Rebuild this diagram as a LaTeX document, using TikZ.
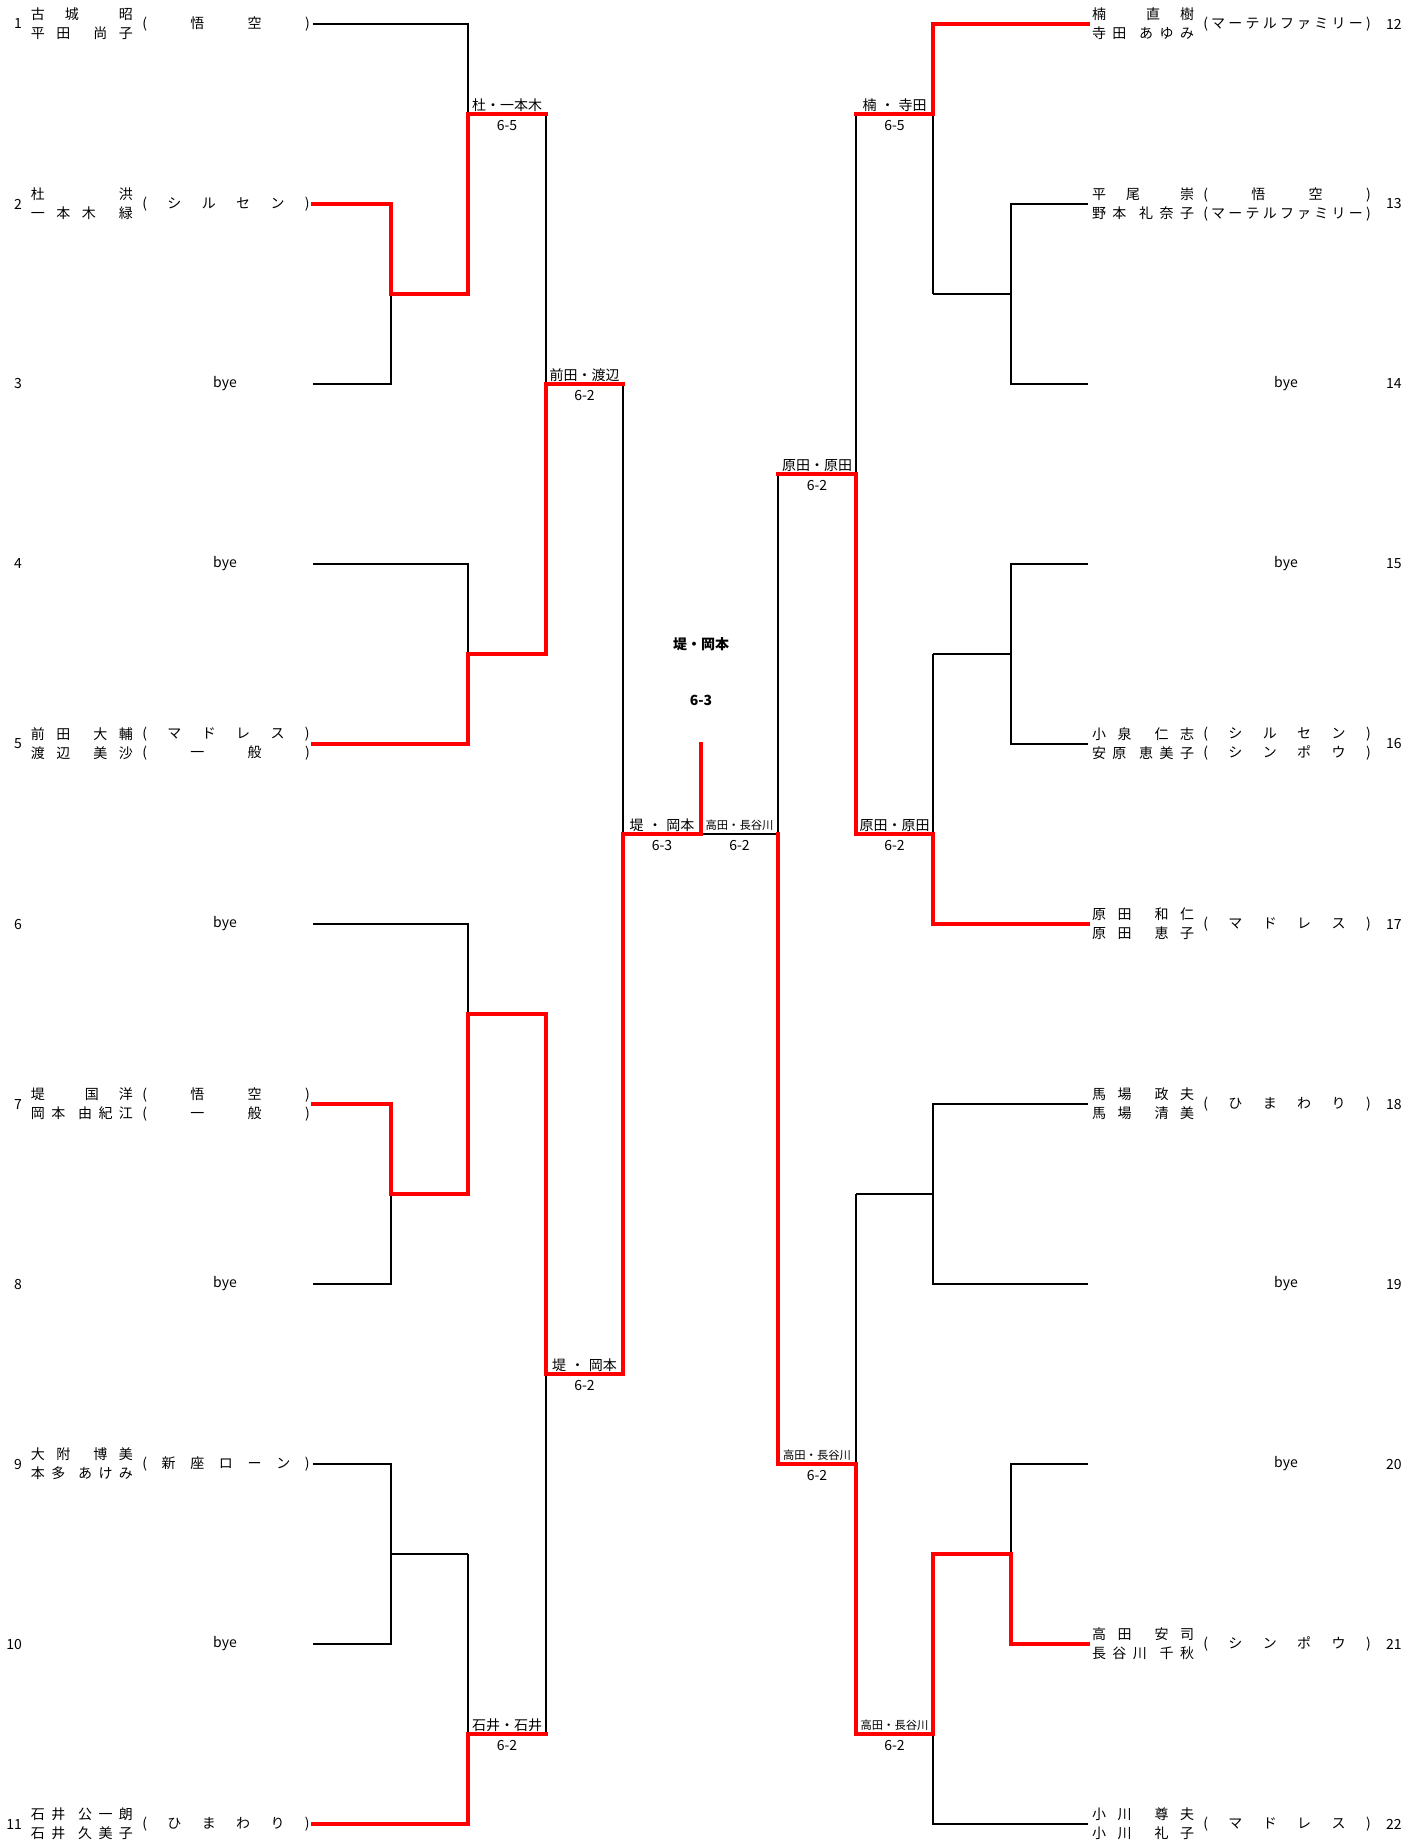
\documentclass[tikz,border=0pt]{standalone}
\usepackage{fontspec}
\setmainfont{Noto Sans CJK JP}
\usetikzlibrary{positioning}

\makeatletter
\def\spr@bar{|}
\newcommand{\spr}[1]{\let\spr@gap\relax
  \@tfor\spr@t:=#1\do{\ifx\spr@t\spr@bar\hfill\else\spr@gap\spr@t\let\spr@gap\hfill\fi}}
\makeatother
\newcommand{\nm}[1]{\makebox[76.5pt][s]{\spr{#1}}}
\newcommand{\af}[1]{\makebox[10.5pt][r]{(}\makebox[118.5pt][s]{\hfill\spr{#1}\hfill}\makebox[6pt][l]{)}}

\begin{document}
\begin{tikzpicture}[x=0.75pt,y=-0.75pt,
    every node/.style={inner sep=0pt,outer sep=0pt},
    entry/.style={font=\fontsize{10.5}{14.25}\selectfont,align=left},
    num/.style={font=\fontsize{10.5}{12}\selectfont},
    bye/.style={font=\fontsize{10.5}{12}\selectfont},
    winner/.style={midway,above=2pt,font=\fontsize{10.5}{12}\selectfont},
    winnersm/.style={midway,above=2.5pt,font=\fontsize{8.5}{10}\selectfont},
    score/.style={midway,below=4.5pt,font=\fontsize{10.5}{12}\selectfont},
    champ/.style={font=\bfseries\fontsize{10.5}{12}\selectfont},
    bline/.style={draw,line width=1pt},
    rline/.style={draw=red,line width=3pt,line cap=rect},
    elbow/.style={to path={-| (\tikztotarget)}}]

  \useasboundingbox (0,0) rectangle (1418,1840);

  \foreach \i in {1,...,11} {
    \coordinate (L\i) at (313,{24+180*(\i-1)});
    \coordinate (R\i) at (1088,{24+180*(\i-1)});
  }

  \coordinate (mA) at (391,294);  \coordinate (oA) at (468,294);
  \coordinate (mB) at (468,114);  \coordinate (oB) at (546,114);
  \coordinate (mC) at (468,654);  \coordinate (oC) at (546,654);
  \coordinate (mD) at (546,384);  \coordinate (oD) at (623,384);
  \coordinate (mE) at (391,1194); \coordinate (oE) at (468,1194);
  \coordinate (mF) at (468,1014); \coordinate (oF) at (546,1014);
  \coordinate (mG) at (391,1554); \coordinate (oG) at (468,1554);
  \coordinate (mH) at (468,1734); \coordinate (oH) at (546,1734);
  \coordinate (mI) at (546,1374); \coordinate (oI) at (623,1374);
  \coordinate (mJ) at (623,834);
  \coordinate (ctr) at (701,834);
  \coordinate (fin) at (701,744);
  \coordinate (mL) at (1011,294); \coordinate (oL) at (933,294);
  \coordinate (mK) at (933,114);  \coordinate (oK) at (856,114);
  \coordinate (mM) at (1011,654); \coordinate (oM) at (933,654);
  \coordinate (mN) at (933,834);  \coordinate (oN) at (856,834);
  \coordinate (mO) at (856,474);  \coordinate (oO) at (778,474);
  \coordinate (mP) at (933,1194); \coordinate (oP) at (856,1194);
  \coordinate (mQ) at (1011,1554);\coordinate (oQ) at (933,1554);
  \coordinate (mR) at (933,1734); \coordinate (oR) at (856,1734);
  \coordinate (mS) at (856,1464); \coordinate (oS) at (778,1464);
  \coordinate (mT) at (778,834);

  % left half
  \node [num,anchor=east] (n1) at (22,24) {1};
  \node [entry,anchor=west] (p1) at (31,24) {\nm{古城|昭}\\\nm{平田|尚子}};
  \node [entry,right=0pt of p1] (a1) {\af{悟空}};
  \node [num,anchor=east] (n2) at (22,204) {2};
  \node [entry,anchor=west] (p2) at (31,204) {\nm{杜|洪}\\\nm{一本木|緑}};
  \node [entry,right=0pt of p2] (a2) {\af{シルセン}};
  \node [num,anchor=east] (n3) at (22,384) {3};
  \node [bye] (b3) at (225,384) {bye};
  \node [num,anchor=east] (n4) at (22,564) {4};
  \node [bye] (b4) at (225,564) {bye};
  \node [num,anchor=east] (n5) at (22,744) {5};
  \node [entry,anchor=west] (p5) at (31,744) {\nm{前田|大輔}\\\nm{渡辺|美沙}};
  \node [entry,right=0pt of p5] (a5) {\af{マドレス}\\\af{一般}};
  \node [num,anchor=east] (n6) at (22,924) {6};
  \node [bye] (b6) at (225,924) {bye};
  \node [num,anchor=east] (n7) at (22,1104) {7};
  \node [entry,anchor=west] (p7) at (31,1104) {\nm{堤|国洋}\\\nm{岡本|由紀江}};
  \node [entry,right=0pt of p7] (a7) {\af{悟空}\\\af{一般}};
  \node [num,anchor=east] (n8) at (22,1284) {8};
  \node [bye] (b8) at (225,1284) {bye};
  \node [num,anchor=east] (n9) at (22,1464) {9};
  \node [entry,anchor=west] (p9) at (31,1464) {\nm{大附|博美}\\\nm{本多|あけみ}};
  \node [entry,right=0pt of p9] (a9) {\af{新座ローン}};
  \node [num,anchor=east] (n10) at (22,1644) {10};
  \node [bye] (b10) at (225,1644) {bye};
  \node [num,anchor=east] (n11) at (22,1824) {11};
  \node [entry,anchor=west] (p11) at (31,1824) {\nm{石井|公一朗}\\\nm{石井|久美子}};
  \node [entry,right=0pt of p11] (a11) {\af{ひまわり}};

  % right half
  \node [entry,anchor=west] (p12) at (1092,24) {\nm{楠|直樹}\\\nm{寺田|あゆみ}};
  \node [entry,right=0pt of p12] (a12) {\af{マーテルファミリー}};
  \node [num,anchor=west] (n12) at (1386,24) {12};
  \node [entry,anchor=west] (p13) at (1092,204) {\nm{平尾|崇}\\\nm{野本|礼奈子}};
  \node [entry,right=0pt of p13] (a13) {\af{悟空}\\\af{マーテルファミリー}};
  \node [num,anchor=west] (n13) at (1386,204) {13};
  \node [bye] (b14) at (1286,384) {bye};
  \node [num,anchor=west] (n14) at (1386,384) {14};
  \node [bye] (b15) at (1286,564) {bye};
  \node [num,anchor=west] (n15) at (1386,564) {15};
  \node [entry,anchor=west] (p16) at (1092,744) {\nm{小泉|仁志}\\\nm{安原|恵美子}};
  \node [entry,right=0pt of p16] (a16) {\af{シルセン}\\\af{シンポウ}};
  \node [num,anchor=west] (n16) at (1386,744) {16};
  \node [entry,anchor=west] (p17) at (1092,924) {\nm{原田|和仁}\\\nm{原田|恵子}};
  \node [entry,right=0pt of p17] (a17) {\af{マドレス}};
  \node [num,anchor=west] (n17) at (1386,924) {17};
  \node [entry,anchor=west] (p18) at (1092,1104) {\nm{馬場|政夫}\\\nm{馬場|清美}};
  \node [entry,right=0pt of p18] (a18) {\af{ひまわり}};
  \node [num,anchor=west] (n18) at (1386,1104) {18};
  \node [bye] (b19) at (1286,1284) {bye};
  \node [num,anchor=west] (n19) at (1386,1284) {19};
  \node [bye] (b20) at (1286,1464) {bye};
  \node [num,anchor=west] (n20) at (1386,1464) {20};
  \node [entry,anchor=west] (p21) at (1092,1644) {\nm{高田|安司}\\\nm{長谷川|千秋}};
  \node [entry,right=0pt of p21] (a21) {\af{シンポウ}};
  \node [num,anchor=west] (n21) at (1386,1644) {21};
  \node [entry,anchor=west] (p22) at (1092,1824) {\nm{小川|尊夫}\\\nm{小川|礼子}};
  \node [entry,right=0pt of p22] (a22) {\af{マドレス}};
  \node [num,anchor=west] (n22) at (1386,1824) {22};

  \path [bline]
    (L2) edge[elbow] (mA)  (L3) edge[elbow] (mA)  (mA) edge (oA)
    (L1) edge[elbow] (mB)  (oA) edge (mB)         (mB) edge (oB)
    (L4) edge[elbow] (mC)  (L5) edge[elbow] (mC)  (mC) edge (oC)
    (oB) edge (mD)         (oC) edge (mD)         (mD) edge (oD)
    (L7) edge[elbow] (mE)  (L8) edge[elbow] (mE)  (mE) edge (oE)
    (L6) edge[elbow] (mF)  (oE) edge (mF)         (mF) edge (oF)
    (L9) edge[elbow] (mG)  (L10) edge[elbow] (mG) (mG) edge (oG)
    (oG) edge (mH)         (L11) edge[elbow] (mH) (mH) edge (oH)
    (oF) edge (mI)         (oH) edge (mI)         (mI) edge (oI)
    (oD) edge (mJ)         (oI) edge (mJ)         (mJ) edge (ctr)
    (R2) edge[elbow] (mL)  (R3) edge[elbow] (mL)  (mL) edge (oL)
    (R1) edge[elbow] (mK)  (oL) edge (mK)         (mK) edge (oK)
    (R4) edge[elbow] (mM)  (R5) edge[elbow] (mM)  (mM) edge (oM)
    (R6) edge[elbow] (mN)  (oM) edge (mN)         (mN) edge (oN)
    (oK) edge (mO)         (oN) edge (mO)         (mO) edge (oO)
    (R7) edge[elbow] (mP)  (R8) edge[elbow] (mP)  (mP) edge (oP)
    (R9) edge[elbow] (mQ)  (R10) edge[elbow] (mQ) (mQ) edge (oQ)
    (oQ) edge (mR)         (R11) edge[elbow] (mR) (mR) edge (oR)
    (oP) edge (mS)         (oR) edge (mS)         (mS) edge (oS)
    (oO) edge (mT)         (oS) edge (mT)         (mT) edge (ctr);

  \draw [rline] (L2) -| (mA) -- (oA) -- (mB) -- (oB);
  \draw [rline] (L5) -| (mC) -- (oC) -- (mD) -- (oD);
  \draw [rline] (L7) -| (mE) -- (oE) -- (mF) -- (oF) -- (mI) -- (oI) -- (mJ) -- (ctr) -- (fin);
  \draw [rline] (L11) -| (mH) -- (oH);
  \draw [rline] (R1) -| (mK) -- (oK);
  \draw [rline] (R6) -| (mN) -- (oN) -- (mO) -- (oO);
  \draw [rline] (R10) -| (mQ) -- (oQ) -- (mR) -- (oR) -- (mS) -- (oS) -- (mT);

  \path (mB) -- (oB) node [winner] (wB) {杜・一本木} node [score] (sB) {6-5};
  \path (mD) -- (oD) node [winner] (wD) {前田・渡辺} node [score] (sD) {6-2};
  \path (mH) -- (oH) node [winner] (wH) {石井・石井} node [score] (sH) {6-2};
  \path (mI) -- (oI) node [winner] (wI) {\makebox[48.75pt][s]{堤\hfill ・\hfill 岡本}} node [score] (sI) {6-2};
  \path (mJ) -- (ctr) node [winner] (wJ) {\makebox[48.75pt][s]{堤\hfill ・\hfill 岡本}} node [score] (sJ) {6-3};
  \path (mK) -- (oK) node [winner] (wK) {\makebox[48pt][s]{楠\hfill ・\hfill 寺田}} node [score] (sK) {6-5};
  \path (mN) -- (oN) node [winner] (wN) {原田・原田} node [score] (sN) {6-2};
  \path (mO) -- (oO) node [winner] (wO) {原田・原田} node [score] (sO) {6-2};
  \path (mR) -- (oR) node [winnersm] (wR) {高田・長谷川} node [score] (sR) {6-2};
  \path (mS) -- (oS) node [winnersm] (wS) {高田・長谷川} node [score] (sS) {6-2};
  \path (mT) -- (ctr) node [winnersm] (wT) {高田・長谷川} node [score] (sT) {6-2};

  \node [champ] (champ) at (701,644) {堤・岡本};
  \node [champ] (champsc) at (701,700) {6-3};

\end{tikzpicture}
\end{document}
